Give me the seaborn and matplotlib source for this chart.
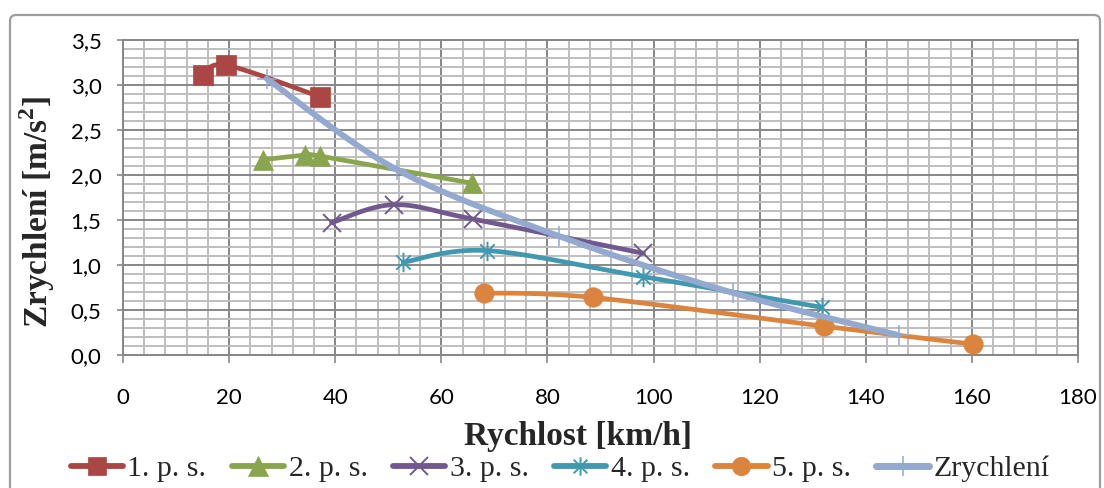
import numpy as np
import pandas as pd
import matplotlib
matplotlib.use("Agg")
import matplotlib.pyplot as plt
import seaborn as sns
from matplotlib.path import Path
from matplotlib.lines import Line2D
from matplotlib.patches import FancyBboxPatch
from matplotlib.transforms import IdentityTransform
from matplotlib.ticker import MultipleLocator

# ---- data: speed [km/h] vs. acceleration [m/s^2] per gear ----
g1_speed = [15.1, 19.5, 37.1]
g1_acc = [3.11, 3.22, 2.87]
g2_speed = [26.4, 34.3, 37.1, 65.7]
g2_acc = [2.17, 2.22, 2.21, 1.91]
g3_speed = [39.3, 51.0, 66.0, 98.1]
g3_acc = [1.47, 1.67, 1.51, 1.13]
g4_speed = [52.8, 68.6, 98.1, 131.7]
g4_acc = [1.03, 1.16, 0.87, 0.53]
g5_speed = [68.0, 88.5, 132.1, 160.2]
g5_acc = [0.69, 0.64, 0.32, 0.12]
env_speed = [27.1, 51.6, 82.2, 115.0, 146.2]
env_acc = [3.07, 2.06, 1.32, 0.69, 0.22]

series_names = ["1. p. s.", "2. p. s.", "3. p. s.", "4. p. s.", "5. p. s.", "Zrychlení"]
x_tick_values = [0, 20, 40, 60, 80, 100, 120, 140, 160, 180]
x_tick_labels = ["0", "20", "40", "60", "80", "100", "120", "140", "160", "180"]
y_tick_values = [0.0, 0.5, 1.0, 1.5, 2.0, 2.5, 3.0, 3.5]
y_tick_labels = ["0,0", "0,5", "1,0", "1,5", "2,0", "2,5", "3,0", "3,5"]

sns.set_theme(style="white")
plt.rcParams["font.family"] = ["Lato", "DejaVu Sans"]
plt.rcParams["mathtext.fontset"] = "custom"
plt.rcParams["mathtext.rm"] = "Liberation Serif"
plt.rcParams["mathtext.bf"] = "Liberation Serif:bold"

W, H = 1104, 488
fig = plt.figure(figsize=(W / 100, H / 100), dpi=100)
fig.patch.set_facecolor("white")
ax = fig.add_axes([123 / W, (H - 355) / H, 955 / W, 315 / H])
ax.set_xlim(0, 180)
ax.set_ylim(0, 3.5)

# pixel proportions of the plotting area, used for smoothing in screen space
SX, SY = 955 / 180, 315 / 3.5


def smooth_curve(xs, ys, n=40):
    """Bezier-smoothed polyline through the given points (screen-space tangents)."""
    P = np.column_stack([np.asarray(xs, float) * SX, np.asarray(ys, float) * SY])
    k = len(P)
    out = [P[0]]
    t = np.linspace(0, 1, n)[1:, None]
    for i in range(k - 1):
        p_prev = P[i - 1] if i > 0 else P[i]
        p_next = P[i + 2] if i + 2 < k else P[i + 1]
        c1 = P[i] + (P[i + 1] - p_prev) / 6
        c2 = P[i + 1] - (p_next - P[i]) / 6
        seg = ((1 - t) ** 3) * P[i] + 3 * ((1 - t) ** 2) * t * c1 \
            + 3 * (1 - t) * (t ** 2) * c2 + (t ** 3) * P[i + 1]
        out.extend(seg)
    out = np.array(out)
    return out[:, 0] / SX, out[:, 1] / SY


# asterisk marker: an "x" crossed by a vertical bar
star_path = Path(
    [(-1, -1), (1, 1), (-1, 1), (1, -1), (0, -1.35), (0, 1.35)],
    [Path.MOVETO, Path.LINETO, Path.MOVETO, Path.LINETO, Path.MOVETO, Path.LINETO],
)

styles = [
    dict(color="#AA4643", lw=3.4, marker="s", ms=14, mew=0.5, filled=True),
    dict(color="#89A54E", lw=3.4, marker="^", ms=15, mew=0.5, filled=True),
    dict(color="#71588F", lw=3.4, marker="x", ms=13, mew=1.4, filled=False),
    dict(color="#4198AF", lw=3.4, marker=star_path, ms=14, mew=1.4, filled=False),
    dict(color="#DB843D", lw=3.4, marker="o", ms=14, mew=0.5, filled=True),
    dict(color="#93A9CF", lw=4.3, marker="+", ms=15, mew=1.1, filled=False),
]
all_x = [g1_speed, g2_speed, g3_speed, g4_speed, g5_speed, env_speed]
all_y = [g1_acc, g2_acc, g3_acc, g4_acc, g5_acc, env_acc]

# grid
ax.xaxis.set_major_locator(plt.FixedLocator(x_tick_values))
ax.yaxis.set_major_locator(plt.FixedLocator(y_tick_values))
ax.xaxis.set_minor_locator(MultipleLocator(4))
ax.yaxis.set_minor_locator(MultipleLocator(0.1))
ax.grid(which="minor", color="#BEBEBE", lw=1.4)
ax.grid(which="major", color="#878787", lw=1.4)
ax.set_axisbelow(True)

handles = []
for z, (name, st, xs, ys) in enumerate(zip(series_names, styles, all_x, all_y)):
    cx, cy = smooth_curve(xs, ys)
    curve = pd.DataFrame({"speed": cx, "acc": cy})
    sns.lineplot(data=curve, x="speed", y="acc", sort=False, estimator=None,
                 color=st["color"], lw=st["lw"], ax=ax, zorder=3 + z,
                 solid_capstyle="round")
    mfc = st["color"] if st["filled"] else "none"
    ax.plot(xs, ys, ls="none", marker=st["marker"], ms=st["ms"], mew=st["mew"],
            mfc=mfc, mec=st["color"], zorder=3 + z, clip_on=False)
    handles.append(Line2D([], [], color=st["color"], lw=st["lw"] + 0.8, marker=st["marker"],
                          ms=st["ms"] * 0.95, mew=st["mew"], mfc=mfc, mec=st["color"],
                          solid_capstyle="round"))

ax.set_xticklabels(x_tick_labels)
ax.set_yticklabels(y_tick_labels)
ax.tick_params(axis="y", which="major", length=4.5, width=1.2, color="#878787",
               direction="out", pad=11, labelsize=16, labelcolor="black", left=True)
ax.tick_params(axis="x", which="major", length=5.5, width=1.2, color="#878787",
               direction="out", pad=18, labelsize=16, labelcolor="black", bottom=True)
ax.tick_params(which="minor", length=0)
for side in ["left", "bottom", "top", "right"]:
    ax.spines[side].set_color("#878787")
    ax.spines[side].set_linewidth(1.4)

label_font = dict(family="Liberation Serif", weight="bold", size=24)
ax.set_xlabel("Rychlost [km/h]", **label_font)
ax.set_ylabel(r"Zrychlení [m/s$^{\mathbf{2}}$]", **label_font)
ax.xaxis.set_label_coords((578 - 123) / 955, (355 - 437) / 315)
ax.xaxis.label.set_va("center")
ax.yaxis.set_label_coords((37 - 123) / 955, (355 - 212) / 315)
ax.yaxis.label.set_va("center")

fig.legend(handles, series_names, loc="center", ncol=6, frameon=False,
           bbox_to_anchor=(560 / W, 1 - 469 / H),
           prop=dict(family="Liberation Serif", size=21.5),
           handlelength=1.75, handletextpad=0.15, columnspacing=0.85,
           borderaxespad=0, borderpad=0)

# chart frame
frame = FancyBboxPatch((10, -12), 1090, H - 15 + 12, boxstyle="round,pad=0,rounding_size=6",
                       transform=IdentityTransform(), fill=False, ec="#9E9E9E", lw=1.6)
fig.add_artist(frame)

fig.savefig("out.png", dpi=100)
